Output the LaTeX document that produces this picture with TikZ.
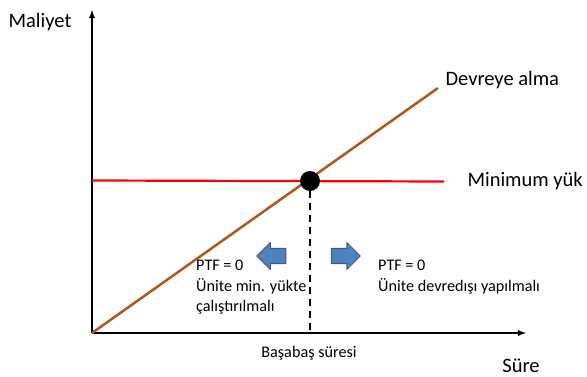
\documentclass[tikz,border=0pt]{standalone}
\usepackage{fontspec}
\setmainfont{Carlito}
\usetikzlibrary{shapes.arrows}
\definecolor{kahve}{RGB}{176,88,28}
\definecolor{okmavi}{RGB}{79,129,189}
\definecolor{okkenar}{RGB}{56,93,138}
\begin{document}
\begin{tikzpicture}[x=1pt,y=-1pt,>=latex, font=\fontsize{20.5}{24}\selectfont, line join=round,
  kucuk/.style={font=\fontsize{16.2}{20.5}\selectfont, align=left, anchor=north west, inner sep=0pt},
  blokok/.style={single arrow, fill=okmavi, draw=okkenar, line width=1pt, minimum height=29pt, minimum width=26pt, single arrow head extend=6pt, inner sep=7pt}]
\useasboundingbox (0,0) rectangle (587,377);
\coordinate (O) at (92,333);
\coordinate (ytop) at (92,10);
\coordinate (xend) at (526,333);
\draw[line width=1.8pt,->] (O)--(ytop);
\draw[line width=1.8pt,->] (O)--(xend);
\node (maliyet) at (40,22) {Maliyet};
\node (sure) at (521,366) {S\"ure};
% egriler
\coordinate (dalma) at (438,88);
\draw[kahve,line width=2.5pt] (O)--(dalma);
\coordinate (mleft) at (92,180.5);
\coordinate (mright) at (444,181.5);
\draw[red,line width=2.2pt] (mleft)--(mright);
\node[anchor=west] (devreye) at (442,80) {Devreye alma};
\node[anchor=west] (minyuk) at (464,181) {Minimum y\"uk};
% basabas noktasi
\node[circle,fill=black,minimum size=20pt,inner sep=0pt] (bp) at (310,181) {};
\draw[line width=2pt,dash pattern=on 7pt off 5pt] (bp.south)--(bp|-O);
\node[font=\fontsize{16.2}{18}\selectfont] (basabas) at (309,353) {Ba\c{s}aba\c{s} s\"uresi};
% oklar ve aciklamalar
\node[blokok,shape border rotate=180] (solok) at (275,256) {};
\node[blokok] (sagok) at (342,256) {};
\node[kucuk] (soltext) at (196,260) {PTF = 0\\\"Unite min. y\"ukte\\\c{c}al\i\c{s}t\i r\i lmal\i};
\node[kucuk] (sagtext) at (378,260) {PTF = 0\\\"Unite devred\i\c{s}\i\ yap\i lmal\i};
\end{tikzpicture}
\end{document}
